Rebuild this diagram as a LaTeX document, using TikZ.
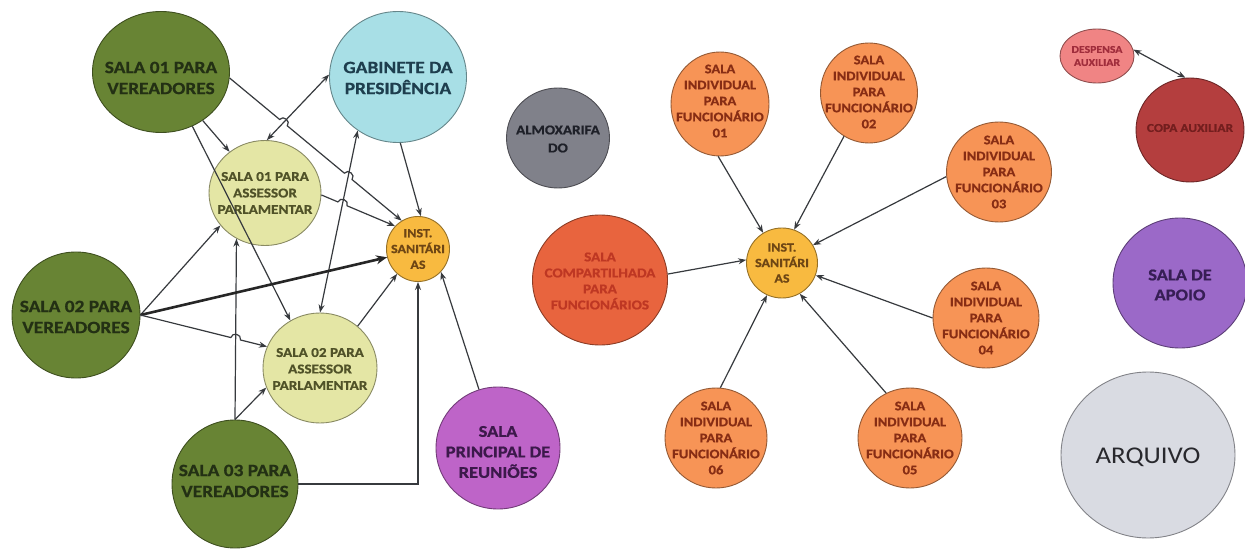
\documentclass[tikz,border=0pt]{standalone}
\usepackage{fontspec}
\setmainfont{Carlito}[FakeStretch=1.12,BoldFeatures={FakeBold=0.8}]
\usetikzlibrary{shapes.geometric,arrows.meta,calc,intersections}
\definecolor{gV}{RGB}{104,132,52}
\definecolor{gVt}{RGB}{35,48,20}
\definecolor{cGab}{RGB}{168,223,230}
\definecolor{cGabT}{RGB}{30,62,78}
\definecolor{cAss}{RGB}{228,230,165}
\definecolor{cAssT}{RGB}{80,82,40}
\definecolor{cInst}{RGB}{248,186,64}
\definecolor{cInstT}{RGB}{110,70,20}
\definecolor{cPri}{RGB}{190,100,200}
\definecolor{cPriT}{RGB}{60,25,75}
\definecolor{cAlm}{RGB}{128,129,138}
\definecolor{cAlmT}{RGB}{30,32,40}
\definecolor{cCmp}{RGB}{232,100,62}
\definecolor{cCmpT}{RGB}{190,55,35}
\definecolor{cFun}{RGB}{247,148,86}
\definecolor{cFunT}{RGB}{135,45,20}
\definecolor{cDsp}{RGB}{240,132,132}
\definecolor{cDspT}{RGB}{160,45,60}
\definecolor{cCopa}{RGB}{180,62,62}
\definecolor{cCopaT}{RGB}{115,30,30}
\definecolor{cApo}{RGB}{155,105,200}
\definecolor{cApoT}{RGB}{55,30,85}
\definecolor{cArq}{RGB}{217,219,226}
\definecolor{cArqT}{RGB}{40,40,45}
\definecolor{edgec}{RGB}{55,58,62}
\begin{document}
\begin{tikzpicture}[x=1pt,y=-1pt,
  room/.style={ellipse, inner sep=0pt, line width=0.9pt, draw=#1!60!black, fill=#1},
  wh/.style 2 args={minimum width=#1pt, minimum height=#2pt},
  txt/.style={align=center, inner sep=0pt, text=#1},
  fs/.style 2 args={font={\fontsize{#1}{#2}\selectfont\bfseries}},
  conn/.style={draw=edgec, line width=1.2pt, -{Stealth[length=8pt,width=6pt]}},
  dconn/.style={draw=edgec, line width=1.2pt, {Stealth[length=8pt,width=6pt]}-{Stealth[length=8pt,width=6pt]}},
  boldconn/.style={draw=black!85, line width=2.6pt, -{Stealth[length=11pt,width=9pt]}}
]
\useasboundingbox[fill=white] (0,0) rectangle (1245,553);

% ---------- left cluster ----------
\node[room=gV, wh={137}{121}] (s1v) at (161,72) {};
\node[txt=gVt, fs={17.3}{21}] (s1vt) at (161,78) {SALA 01 PARA\\VEREADORES};
\node[room=cGab, wh={137}{131}] (gab) at (398,77) {};
\node[txt=cGabT, fs={17.3}{21}] (gabt) at (398,78) {GABINETE DA\\PRESIDÊNCIA};
\node[room=cAss, wh={112}{105}] (s1a) at (265,193) {};
\node[txt=cAssT, fs={13.5}{16.5}] (s1at) at (265,193) {SALA 01 PARA\\ASSESSOR\\PARLAMENTAR};
\node[room=cInst, wh={63}{65}] (inl) at (418,249) {};
\node[txt=cInstT, fs={12.5}{15.8}] (inlt) at (418,249) {INST.\\SANITÁRI\\AS};
\node[room=gV, wh={128}{126}] (s2v) at (76,315) {};
\node[txt=gVt, fs={17.3}{21}] (s2vt) at (76,317) {SALA 02 PARA\\VEREADORES};
\node[room=cAss, wh={114}{110}] (s2a) at (320,368) {};
\node[txt=cAssT, fs={13.5}{16.5}] (s2at) at (320,369) {SALA 02 PARA\\ASSESSOR\\PARLAMENTAR};
\node[room=gV, wh={126}{128}] (s3v) at (235,484) {};
\node[txt=gVt, fs={17.3}{21}] (s3vt) at (235,481) {SALA 03 PARA\\VEREADORES};
\node[room=cPri, wh={124}{122}] (sp) at (498,448) {};
\node[txt=cPriT, fs={16.5}{20.5}] (spt) at (498,452) {SALA\\PRINCIPAL DE\\REUNIÕES};

% ---------- middle / right ----------
\node[room=cAlm, wh={103}{100}] (alm) at (558,138) {};
\node[txt=cAlmT, fs={13.5}{18}] (almt) at (558,139) {ALMOXARIFA\\DO};
\node[room=cCmp, wh={135}{130}] (cmp) at (600,280) {};
\node[txt=cCmpT, fs={13.5}{16}] (cmpt) at (600,281) {SALA\\COMPARTILHADA\\PARA\\FUNCIONÁRIOS};
\node[room=cInst, wh={71}{70}] (inr) at (782,263) {};
\node[txt=cInstT, fs={12.5}{15.5}] (inrt) at (782,263) {INST.\\SANITÁRI\\AS};
\node[room=cFun, wh={98}{104}] (f1) at (720,104) {};
\node[txt=cFunT, fs={13}{16}] (f1t) at (720,101) {SALA\\INDIVIDUAL\\PARA\\FUNCIONÁRIO\\01};
\node[room=cFun, wh={97}{100}] (f2) at (869,93) {};
\node[txt=cFunT, fs={13}{16}] (f2t) at (869,92) {SALA\\INDIVIDUAL\\PARA\\FUNCIONÁRIO\\02};
\node[room=cFun, wh={105}{100}] (f3) at (999,172) {};
\node[txt=cFunT, fs={13}{16}] (f3t) at (999,172) {SALA\\INDIVIDUAL\\PARA\\FUNCIONÁRIO\\03};
\node[room=cFun, wh={106}{100}] (f4) at (986,318) {};
\node[txt=cFunT, fs={13}{16}] (f4t) at (986,318) {SALA\\INDIVIDUAL\\PARA\\FUNCIONÁRIO\\04};
\node[room=cFun, wh={104}{100}] (f5) at (910,438) {};
\node[txt=cFunT, fs={13}{16}] (f5t) at (910,438) {SALA\\INDIVIDUAL\\PARA\\FUNCIONÁRIO\\05};
\node[room=cFun, wh={102}{100}] (f6) at (716,438) {};
\node[txt=cFunT, fs={13}{16}] (f6t) at (716,438) {SALA\\INDIVIDUAL\\PARA\\FUNCIONÁRIO\\06};
\node[room=cDsp, wh={74}{54}] (desp) at (1097,56) {};
\node[txt=cDspT, fs={10.5}{13}] (despt) at (1097,56) {DESPENSA\\AUXILIAR};
\node[room=cCopa, wh={108}{104}] (copa) at (1190,130) {};
\node[txt=cCopaT, fs={12}{14}] (copat) at (1190,128) {COPA AUXILIAR};
\node[room=cApo, wh={134}{130}] (apo) at (1180,283) {};
\node[txt=cApoT, fs={16.5}{20}] (apot) at (1180,285) {SALA DE\\APOIO};
\node[room=cArq, wh={174}{166}] (arq) at (1148,455) {};
\node[txt=cArqT, font={\fontsize{24}{28}\selectfont}] (arqt) at (1148,457) {ARQUIVO};

% ---------- left connectors ----------
\path[name path=pA] (s1v.355) -- (inl.120);
\path[name path=pB] (s1a.358) -- (inl.135);
\path[name path=pC] (s2v.east) -- (s2a.158);
\path[name path=pGS] (s1a.88) -- (gab.178);
\path[name path=pGT] (s2a.90) -- (gab.233);
\path[name path=pV] (s3v.north) -- (s1a.238);
\path[name intersections={of=pA and pGS,by=xa}];
\path[name intersections={of=pA and pGT,by=xb}];
\path[name intersections={of=pB and pGT,by=xc}];
\path[name intersections={of=pC and pV,by=xd}];
\coordinate (a1) at ($(xa)!5pt!(s1v.355)$);
\coordinate (a2) at ($(xa)!5pt!(inl.120)$);
\coordinate (a3) at ($(xb)!5pt!(s1v.355)$);
\coordinate (a4) at ($(xb)!5pt!(inl.120)$);
\coordinate (b1) at ($(xc)!5pt!(s1a.358)$);
\coordinate (b2) at ($(xc)!5pt!(inl.135)$);
\coordinate (c1) at ($(xd)!5pt!(s2v.east)$);
\coordinate (c2) at ($(xd)!5pt!(s2a.158)$);

\draw[dconn] (s1a.88) -- (gab.178);
\draw[dconn] (s2a.90) -- (gab.233);
\draw[conn] (s3v.north) -- (s1a.238);
\draw[conn] (s1v) -- (s1a);
\draw[conn] (s1v.300) -- (s2a.122);
\draw[conn] (s1v.355) -- (a1) .. controls ($(a1)!6pt!90:(a2)$) and ($(a2)!6pt!-90:(a1)$) .. (a2)
  -- (a3) .. controls ($(a3)!6pt!90:(a4)$) and ($(a4)!6pt!-90:(a3)$) .. (a4) -- (inl.120);
\draw[conn] (s1a.358) -- (b1) .. controls ($(b1)!6pt!90:(b2)$) and ($(b2)!6pt!-90:(b1)$) .. (b2) -- (inl.135);
\draw[conn] (gab.272) -- (inl.85);
\draw[conn] (s2v.east) -- (s1a.216);
\draw[boldconn] (s2v.east) -- (inl.195);
\draw[conn] (s2v.east) -- (c1) .. controls ($(c1)!6pt!90:(c2)$) and ($(c2)!6pt!-90:(c1)$) .. (c2) -- (s2a.158);
\draw[conn] (s3v.north) -- (s2a.200);
\draw[conn] (s3v.east) -| (inl.south);
\draw[conn] (s2a.48) -- (inl.230);
\draw[conn] (sp.108) -- (inl.315);

% ---------- right connectors ----------
\draw[conn] (f1.268) -- (inr.122);
\draw[conn] (f2.240) -- (inr.70);
\draw[conn] (f3.185) -- (inr.30);
\draw[conn] (cmp.5) -- (inr.175);
\draw[conn] (f4.180) -- (inr.340);
\draw[conn] (f5.118) -- (inr.300);
\draw[conn] (f6.85) -- (inr.245);
\draw[dconn] (desp.10) -- (copa.95);
\end{tikzpicture}
\end{document}
